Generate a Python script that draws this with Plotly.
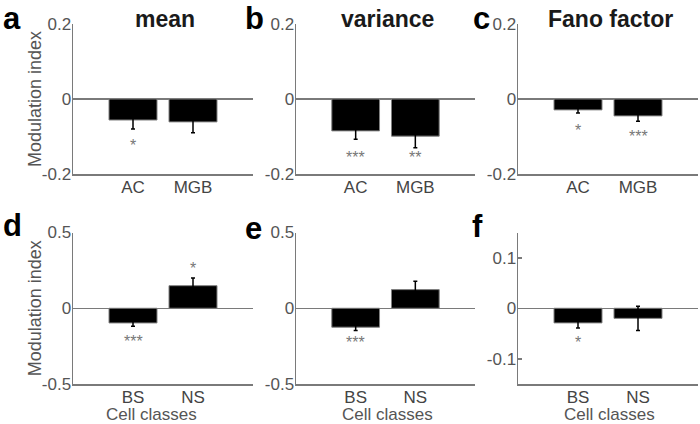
import plotly.graph_objects as go

# ---------------- data ----------------
top_titles = ["mean", "variance", "Fano factor"]
panel_letters = ["a", "b", "c", "d", "e", "f"]
top_categories = ["AC", "MGB"]
bottom_categories = ["BS", "NS"]

mean_vals = [-0.056, -0.061]
mean_err = [0.024, 0.029]
variance_vals = [-0.085, -0.099]
variance_err = [0.022, 0.031]
fano_vals = [-0.029, -0.045]
fano_err = [0.008, 0.014]

cell_mean_vals = [-0.097, 0.149]
cell_mean_err = [0.021, 0.051]
cell_variance_vals = [-0.125, 0.123]
cell_variance_err = [0.022, 0.055]
cell_fano_vals = [-0.029, -0.020]
cell_fano_err = [0.010, 0.024]

mean_sig = ["*", ""]
variance_sig = ["***", "**"]
fano_sig = ["*", "***"]
cell_mean_sig = ["***", "*"]
cell_variance_sig = ["***", ""]
cell_fano_sig = ["*", ""]

mean_sig_y = [-0.115, None]
variance_sig_y = [-0.149, -0.149]
fano_sig_y = [-0.077, -0.091]
cell_mean_sig_y = [-0.197, 0.283]
cell_variance_sig_y = [-0.208, None]
cell_fano_sig_y = [-0.062, None]

top_ticks = [-0.2, 0, 0.2]
top_ticktext = ["-0.2", "0", "0.2"]
bottom_ticks_de = [-0.5, 0, 0.5]
bottom_ticktext_de = ["-0.5", "0", "0.5"]
bottom_ticks_f = [-0.1, 0, 0.1]
bottom_ticktext_f = ["-0.1", "0", "0.1"]

y_label = "Modulation index"
x_label_bottom = "Cell classes"

# ---------------- layout geometry ----------------
W, H = 700, 424
FONT = "Liberation Sans, Arial, sans-serif"
AX = "#7a7a7a"
TXT = "#555555"

x_dom = [(73 / W, 253 / W), (296 / W, 475 / W), (518 / W, 698 / W)]
y_dom_top = (1 - 174 / H, 1 - 24 / H)
y_dom_bot = (1 - 384 / H, 1 - 232.5 / H)

panels = [
    dict(cats=top_categories, vals=mean_vals, err=mean_err, sig=mean_sig, sig_y=mean_sig_y,
         yr=[-0.2, 0.2], tv=top_ticks, tt=top_ticktext, row=0, col=0),
    dict(cats=top_categories, vals=variance_vals, err=variance_err, sig=variance_sig, sig_y=variance_sig_y,
         yr=[-0.2, 0.2], tv=top_ticks, tt=top_ticktext, row=0, col=1),
    dict(cats=top_categories, vals=fano_vals, err=fano_err, sig=fano_sig, sig_y=fano_sig_y,
         yr=[-0.2, 0.2], tv=top_ticks, tt=top_ticktext, row=0, col=2),
    dict(cats=bottom_categories, vals=cell_mean_vals, err=cell_mean_err, sig=cell_mean_sig, sig_y=cell_mean_sig_y,
         yr=[-0.5, 0.5], tv=bottom_ticks_de, tt=bottom_ticktext_de, row=1, col=0),
    dict(cats=bottom_categories, vals=cell_variance_vals, err=cell_variance_err, sig=cell_variance_sig,
         sig_y=cell_variance_sig_y, yr=[-0.5, 0.5], tv=bottom_ticks_de, tt=bottom_ticktext_de, row=1, col=1),
    dict(cats=bottom_categories, vals=cell_fano_vals, err=cell_fano_err, sig=cell_fano_sig, sig_y=cell_fano_sig_y,
         yr=[-0.15, 0.15], tv=bottom_ticks_f, tt=bottom_ticktext_f, row=1, col=2),
]

fig = go.Figure()
annotations = []
layout = dict(
    width=W, height=H,
    margin=dict(l=0, r=0, t=0, b=0, autoexpand=False),
    paper_bgcolor="white", plot_bgcolor="white",
    showlegend=False, bargap=0.2,
    font=dict(family=FONT, color=TXT),
)

for i, p in enumerate(panels):
    n = i + 1
    xa = "x" if n == 1 else f"x{n}"
    ya = "y" if n == 1 else f"y{n}"
    fig.add_trace(go.Bar(
        x=p["cats"], y=p["vals"], xaxis=xa, yaxis=ya,
        marker=dict(color="black", line=dict(color="#808080", width=1)),
        error_y=dict(type="data", array=p["err"], visible=True, color="black", thickness=1.5, width=2),
    ))
    ydom = y_dom_top if p["row"] == 0 else y_dom_bot
    xkey = "xaxis" if n == 1 else f"xaxis{n}"
    ykey = "yaxis" if n == 1 else f"yaxis{n}"
    layout[xkey] = dict(
        domain=list(x_dom[p["col"]]), anchor=ya, type="category", range=[-1, 2],
        showline=True, linecolor=AX, linewidth=1.5, showgrid=False, zeroline=False,
        ticks="", tickfont=dict(size=17, color="#444444", family=FONT),
        ticklabelstandoff=-3,
        fixedrange=True, automargin=False,
    )
    layout[ykey] = dict(
        domain=list(ydom), anchor=xa, range=p["yr"],
        tickvals=p["tv"], ticktext=p["tt"],
        showline=True, linecolor=AX, linewidth=1.5, showgrid=False,
        zeroline=True, zerolinecolor=AX, zerolinewidth=1.5,
        ticks="inside", ticklen=4, tickcolor=AX, tickwidth=1.5,
        tickfont=dict(size=17, color=TXT, family=FONT),
        ticklabelstandoff=-3,
        fixedrange=True, automargin=False,
    )
    if p["col"] == 0:
        annotations.append(dict(
            x=35 / W, y=(ydom[0] + ydom[1]) / 2, xref="paper", yref="paper",
            text=y_label, textangle=-90, showarrow=False,
            font=dict(size=18, color=TXT, family=FONT),
            xanchor="center", yanchor="middle",
        ))
    for cat, s, sy in zip(p["cats"], p["sig"], p["sig_y"]):
        if s and sy is not None:
            annotations.append(dict(
                x=cat, y=sy, xref=xa, yref=ya, text=s, showarrow=False,
                font=dict(size=16, color="#777777", family=FONT),
                xanchor="center", yanchor="middle", yshift=-3,
            ))

# bottom-row x-axis labels
cell_label_x = [151, 387, 609]
for xc in cell_label_x:
    annotations.append(dict(
        x=xc / W, y=0, xref="paper", yref="paper", text=x_label_bottom,
        showarrow=False, font=dict(size=17, color=TXT, family=FONT),
        xanchor="center", yanchor="bottom", borderpad=0, yshift=-1,
    ))

# titles
title_x = [165, 387, 610]
for t, xc in zip(top_titles, title_x):
    annotations.append(dict(
        x=xc / W, y=1 - 19 / H, xref="paper", yref="paper", text=f"<b>{t}</b>",
        showarrow=False, font=dict(size=23, color="#1a1a1a", family=FONT),
        xanchor="center", yanchor="middle",
    ))

# panel letters
letter_pos = [(1, 27), (243, 28), (471, 28), (1, 234), (243, 237), (470, 235)]
for L, (lx, by) in zip(panel_letters, letter_pos):
    annotations.append(dict(
        x=lx / W, y=1 - (by - 9) / H, xref="paper", yref="paper", text=f"<b>{L}</b>",
        showarrow=False, font=dict(size=31, color="black", family=FONT),
        xanchor="left", yanchor="middle",
    ))

layout["annotations"] = annotations
fig.update_layout(**layout)
fig.write_html(
    "out.html",
    config={"displayModeBar": False, "staticPlot": True},
    post_script="document.body.style.margin='0';document.body.style.overflow='hidden';",
)
